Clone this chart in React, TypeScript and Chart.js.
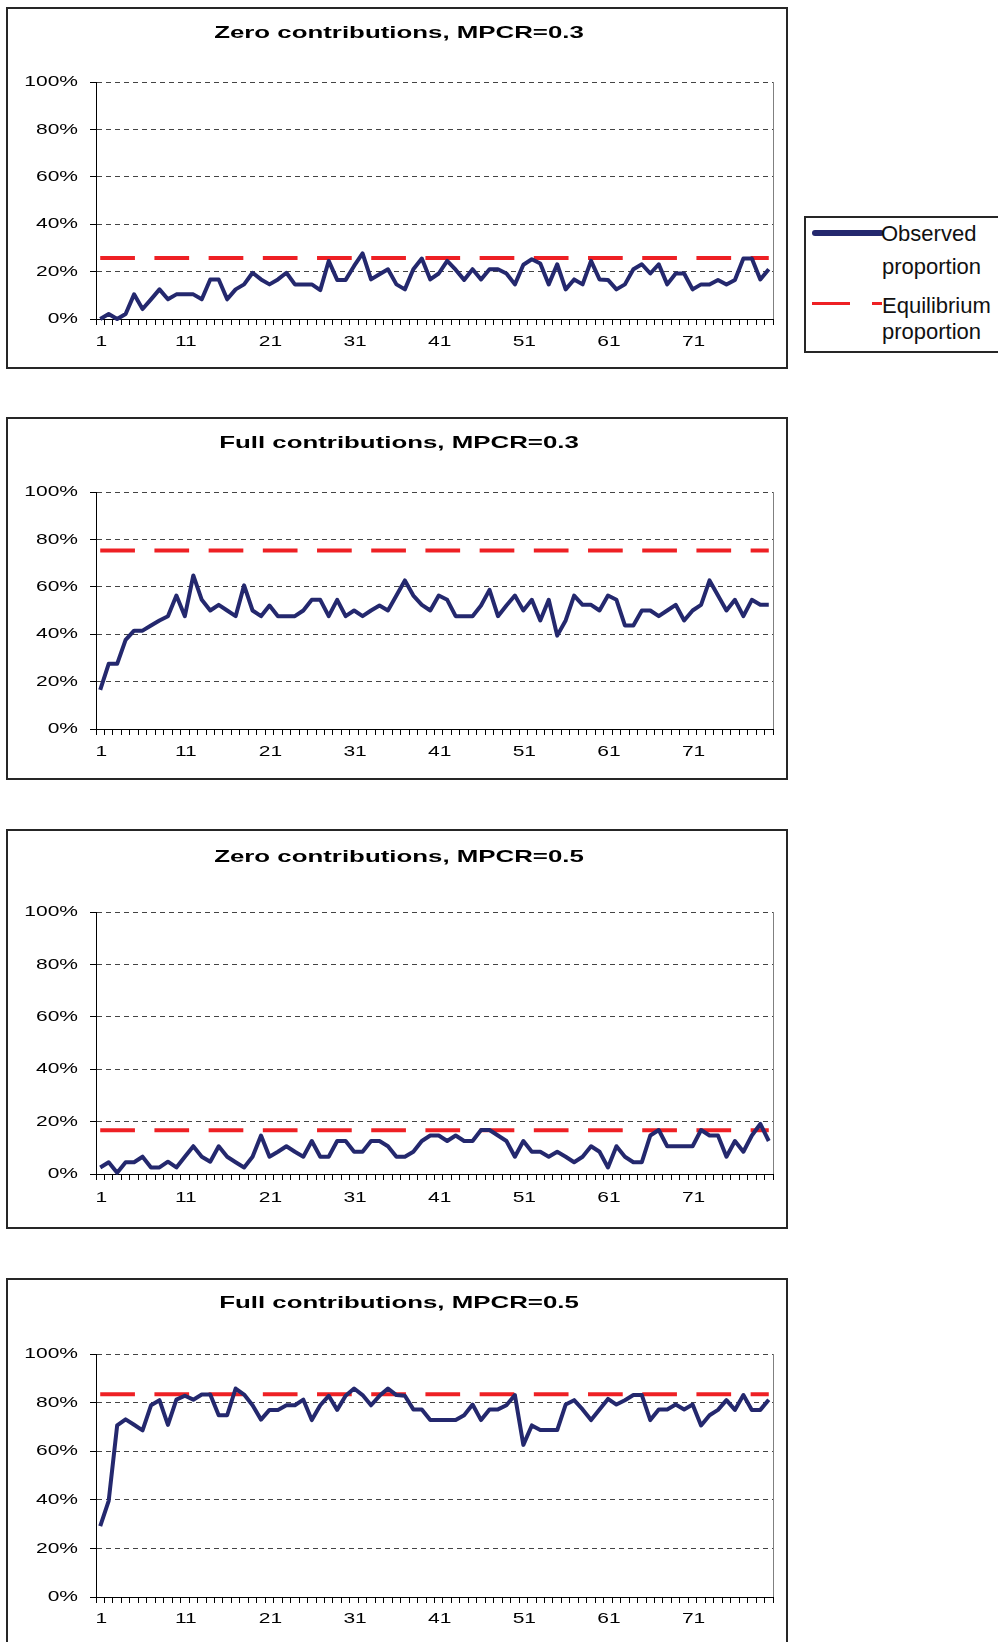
import React, { useEffect, useRef } from 'react';
import { Chart, registerables } from 'chart.js';

Chart.register(...registerables);

// Periods 1..80 on the category axis
const periods = Array.from({ length: 80 }, (_, i) => String(i + 1));
const periodTickLabels = ['1', '11', '21', '31', '41', '51', '61', '71'];
const percentTicks = [0, 20, 40, 60, 80, 100];

// Observed proportion (%) per period
const observedZero03 = [
  0, 2.1, 0, 2.1, 10.4, 4.2, 8.3, 12.5, 8.3, 10.4,
  10.4, 10.4, 8.3, 16.7, 16.7, 8.3, 12.5, 14.6, 19.5, 16.7,
  14.6, 16.7, 19.5, 14.6, 14.6, 14.6, 12.2, 24.5, 16.5, 16.5,
  22.4, 27.7, 16.7, 18.9, 21, 14.6, 12.5, 21, 25.5, 16.7,
  19.2, 24.5, 20.8, 16.5, 21, 16.7, 21, 21, 19.2, 14.6,
  22.9, 25.2, 23.4, 14.6, 23.1, 12.5, 16.7, 14.6, 24.5, 16.7,
  16.5, 12.5, 14.6, 21, 23.1, 19.2, 23.1, 14.6, 19.2, 19.2,
  12.5, 14.6, 14.6, 16.5, 14.6, 16.5, 25.5, 25.5, 16.7, 21,
];
const observedFull03 = [
  16.5, 27.5, 27.5, 37.6, 41.5, 41.5, 43.7, 45.8, 47.6, 56.3,
  47.6, 64.8, 54.5, 50, 52.4, 50, 47.6, 60.6, 50, 47.6,
  52.1, 47.6, 47.6, 47.6, 50, 54.5, 54.5, 47.6, 54.5, 47.6,
  50, 47.6, 50, 52.1, 50, 56.3, 62.7, 56.3, 52.4, 50,
  56.3, 54.5, 47.6, 47.6, 47.6, 52.1, 58.7, 47.6, 52.1, 56.3,
  50, 54.5, 45.8, 54.5, 39.4, 45.8, 56.3, 52.4, 52.4, 50,
  56.3, 54.5, 43.7, 43.7, 50, 50, 47.6, 50, 52.4, 45.8,
  50, 52.4, 62.7, 56.3, 50, 54.5, 47.6, 54.5, 52.4, 52.4,
];
const observedZero05 = [
  2.5, 4.5, 0.5, 4.5, 4.5, 6.6, 2.5, 2.5, 4.7, 2.5,
  6.6, 10.6, 6.6, 4.7, 10.6, 6.6, 4.5, 2.5, 6.6, 14.7,
  6.6, 8.5, 10.6, 8.5, 6.6, 12.6, 6.6, 6.6, 12.6, 12.6,
  8.5, 8.5, 12.6, 12.6, 10.6, 6.6, 6.6, 8.5, 12.6, 14.7,
  14.7, 12.6, 14.7, 12.6, 12.6, 16.8, 16.8, 14.7, 12.6, 6.6,
  12.6, 8.5, 8.5, 6.6, 8.5, 6.6, 4.5, 6.6, 10.6, 8.5,
  2.5, 10.6, 6.6, 4.5, 4.5, 14.7, 16.8, 10.6, 10.6, 10.6,
  10.6, 16.8, 14.7, 14.7, 6.6, 12.6, 8.5, 14.7, 19.1, 12.6,
];
const observedFull05 = [
  29.2, 39.6, 70.6, 73.1, 70.9, 68.6, 78.9, 81, 70.8, 81.2,
  82.8, 81.2, 83.3, 83.3, 74.8, 74.8, 85.8, 83.3, 78.9, 73,
  77, 77, 78.9, 78.9, 81.2, 72.8, 78.9, 82.8, 77, 82.8,
  85.8, 83.1, 78.9, 82.8, 85.8, 83.1, 82.8, 77.2, 77.2, 72.8,
  72.8, 72.8, 72.8, 74.8, 79.2, 72.8, 77.2, 77.2, 78.9, 83.1,
  62.6, 70.6, 68.7, 68.7, 68.7, 79.2, 81, 77.2, 72.8, 77.2,
  81.5, 79.2, 81, 83.1, 83.1, 72.8, 77.2, 77.2, 79.2, 77.2,
  79.2, 70.6, 74.8, 77, 81, 77, 83.1, 77, 77, 81.2,
];

// Equilibrium proportion (%) for each treatment
const equilibriumZero03 = 25.7;
const equilibriumFull03 = 75.3;
const equilibriumZero05 = 16.7;
const equilibriumFull05 = 83.4;

const panelTitles = [
  'Zero contributions, MPCR=0.3',
  'Full contributions, MPCR=0.3',
  'Zero contributions, MPCR=0.5',
  'Full contributions, MPCR=0.5',
];
const panelObserved = [observedZero03, observedFull03, observedZero05, observedFull05];
const panelEquilibrium = [equilibriumZero03, equilibriumFull03, equilibriumZero05, equilibriumFull05];

// Frame geometry for each panel (page pixels; plot top/bottom relative to the canvas)
const frames = [
  { top: 7, height: 362, plotTop: 73, plotBottom: 310, titleY: 24.5, labelGap: 23 },
  { top: 417, height: 363, plotTop: 73, plotBottom: 310, titleY: 24, labelGap: 23 },
  { top: 829, height: 400, plotTop: 81, plotBottom: 343, titleY: 26.7, labelGap: 24 },
  { top: 1278, height: 380, plotTop: 74, plotBottom: 317, titleY: 23.8, labelGap: 22 },
];

const FRAME_LEFT = 6;
const FRAME_WIDTH = 782;
const BORDER = 2;
const CANVAS_W = FRAME_WIDTH - 2 * BORDER;
const PLOT_LEFT = 88;
const PLOT_RIGHT = 765;

const NAVY = '#24286e';
const RED = '#ee2024';
const FONT_FAMILY = '"Liberation Sans", Arial, Helvetica, sans-serif';
const TICK_FONT = `15px ${FONT_FAMILY}`;
const TITLE_FONT = `bold 17px ${FONT_FAMILY}`;

function drawWideText(
  ctx: CanvasRenderingContext2D,
  text: string,
  x: number,
  y: number,
  font: string,
  align: CanvasTextAlign,
  widen: number
) {
  ctx.save();
  ctx.font = font;
  ctx.fillStyle = '#000';
  ctx.textAlign = align;
  ctx.textBaseline = 'middle';
  ctx.translate(x, y);
  ctx.scale(widen, 1);
  ctx.fillText(text, 0, 0);
  ctx.restore();
}

// Draws the panel title, axis labels and the plot's right edge line
const panelText = {
  id: 'panelText',
  beforeDatasetsDraw(chart: any) {
    const { ctx, chartArea } = chart;
    ctx.save();
    ctx.strokeStyle = '#808080';
    ctx.lineWidth = 1;
    const rx = Math.round(chartArea.right) + 0.5;
    ctx.beginPath();
    ctx.moveTo(rx, chartArea.top);
    ctx.lineTo(rx, chartArea.bottom);
    ctx.stroke();
    ctx.restore();
  },
  afterDraw(chart: any, _args: any, opts: any) {
    const { ctx, chartArea, scales } = chart;
    drawWideText(ctx, opts.title, opts.titleX, opts.titleY, TITLE_FONT, 'center', 1.52);
    percentTicks.forEach((v) => {
      const y = scales.y.getPixelForValue(v);
      drawWideText(ctx, `${v}%`, chartArea.left - 18, y, TICK_FONT, 'right', 1.4);
    });
    periodTickLabels.forEach((lbl) => {
      const x = scales.x.getPixelForValue(periods.indexOf(lbl));
      drawWideText(ctx, lbl, x + 1, chartArea.bottom + opts.labelGap, TICK_FONT, 'center', 1.4);
    });
  },
};

function Panel({ index }: { index: number }) {
  const ref = useRef<HTMLCanvasElement | null>(null);
  const frame = frames[index];
  const canvasH = frame.height - 2 * BORDER;

  useEffect(() => {
    if (!ref.current) return;
    const eq = panelEquilibrium[index];
    const chart = new Chart(ref.current, {
      type: 'line',
      data: {
        labels: periods,
        datasets: [
          {
            label: 'Observed proportion',
            data: panelObserved[index],
            borderColor: NAVY,
            borderWidth: 4,
            borderJoinStyle: 'round',
            pointRadius: 0,
            tension: 0,
            fill: false,
            clip: false,
          },
          {
            label: 'Equilibrium proportion',
            data: periods.map(() => eq),
            borderColor: RED,
            borderWidth: 4,
            borderDash: [34.7, 19.5],
            pointRadius: 0,
            tension: 0,
            fill: false,
            clip: false,
          },
        ],
      },
      options: {
        responsive: false,
        animation: false,
        events: [],
        layout: {
          padding: { top: frame.plotTop, right: CANVAS_W - PLOT_RIGHT, bottom: 0, left: 0 },
        },
        plugins: {
          legend: { display: false },
          title: { display: false },
          tooltip: { enabled: false },
          panelText: {
            title: panelTitles[index],
            titleX: 391,
            titleY: frame.titleY,
            labelGap: frame.labelGap,
          },
        } as any,
        scales: {
          x: {
            type: 'category',
            offset: true,
            grid: {
              offset: true,
              drawOnChartArea: false,
              drawTicks: true,
              tickLength: 6,
              color: '#000',
              lineWidth: 1,
            },
            border: { display: true, color: '#000', width: 1 },
            ticks: { display: false, autoSkip: false },
            afterFit: (s: any) => {
              s.height = canvasH - frame.plotBottom;
            },
          },
          y: {
            type: 'linear',
            min: 0,
            max: 100,
            ticks: { display: false, stepSize: 20 },
            grid: {
              color: '#444',
              lineWidth: 1,
              drawTicks: true,
              tickLength: 6,
              tickColor: '#000',
            },
            border: { display: true, color: '#000', width: 1, dash: [5, 4] },
            afterFit: (s: any) => {
              s.width = PLOT_LEFT;
            },
          },
        },
      },
      plugins: [panelText],
    });
    return () => chart.destroy();
  }, [index]);

  return (
    <div
      style={{
        position: 'absolute',
        left: FRAME_LEFT,
        top: frame.top,
        width: FRAME_WIDTH,
        height: frame.height,
        border: `${BORDER}px solid #262626`,
        boxSizing: 'border-box',
        background: '#fff',
      }}
    >
      <canvas ref={ref} width={CANVAS_W} height={canvasH} style={{ display: 'block' }} />
    </div>
  );
}

const legendText: React.CSSProperties = {
  position: 'absolute',
  fontFamily: FONT_FAMILY,
  fontSize: 22,
  lineHeight: '22px',
  color: '#111',
  whiteSpace: 'nowrap',
};

function Legend() {
  return (
    <div
      style={{
        position: 'absolute',
        left: 804,
        top: 216,
        width: 210,
        height: 137,
        border: '2px solid #262626',
        boxSizing: 'border-box',
        background: '#fff',
      }}
    >
      <div style={{ position: 'absolute', left: 6, top: 12, width: 72, height: 6, borderRadius: 3, background: NAVY }} />
      <div style={{ ...legendText, left: 75, top: 5 }}>Observed</div>
      <div style={{ ...legendText, left: 76, top: 38 }}>proportion</div>
      <div style={{ position: 'absolute', left: 6, top: 84, width: 38, height: 3, background: RED }} />
      <div style={{ position: 'absolute', left: 66, top: 84, width: 10, height: 3, background: RED }} />
      <div style={{ ...legendText, left: 76, top: 77 }}>Equilibrium</div>
      <div style={{ ...legendText, left: 76, top: 103 }}>proportion</div>
    </div>
  );
}

export default function App() {
  return (
    <div
      style={{
        position: 'absolute',
        left: 0,
        top: 0,
        width: 998,
        height: 1642,
        overflow: 'hidden',
        background: '#fff',
      }}
    >
      {frames.map((_, i) => (
        <Panel key={i} index={i} />
      ))}
      <Legend />
    </div>
  );
}
